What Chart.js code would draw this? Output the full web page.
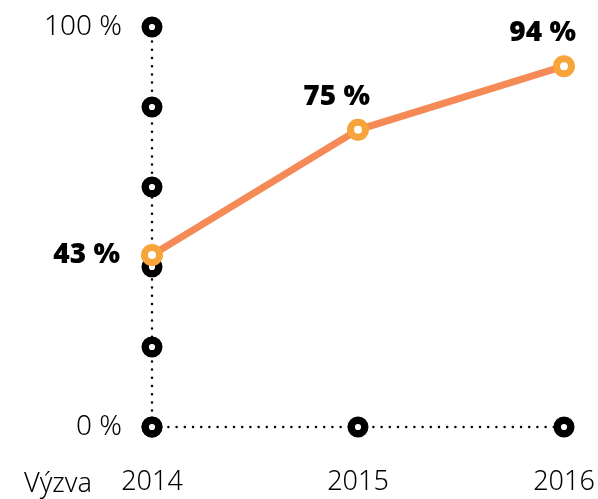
<!DOCTYPE html>
<html>
<head>
<meta charset="utf-8">
<script src="https://cdn.jsdelivr.net/npm/chart.js@4"></script>
<style>
  html, body { margin: 0; padding: 0; background: #fff; }
  #wrap { width: 598px; height: 499px; }
</style>
</head>
<body>
<div id="wrap"><canvas id="chart"></canvas></div>
<script>
// data
const years = ['2014', '2015', '2016'];
const shares = [43, 74.3, 90.2];
const shareLabels = ['43 %', '75 %', '94 %'];
const yTicks = [0, 20, 40, 60, 80, 100];
const axisName = 'Výzva';

const textFont = '"Noto Sans", sans-serif';

// black rings on the axes
const yAxisRings = yTicks.map(v => ({ x: years[0], y: v }));
const xAxisRings = years.map(y => ({ x: y, y: 0 }));

const ringStyle = {
    showLine: true,
    borderColor: '#000',
    borderWidth: 2.5,
    borderDash: [0, 8.2],
    borderCapStyle: 'round',
    pointRadius: 6.8,
    pointBorderWidth: 7.4,
    pointBorderColor: '#000',
    pointBackgroundColor: '#fff',
    pointHoverRadius: 6.8,
    clip: false,
    order: 2
};

const labelPlugin = {
    id: 'shareLabels',
    afterDatasetsDraw(chart) {
        const ctx = chart.ctx;
        const meta = chart.getDatasetMeta(0);
        ctx.save();
        ctx.fillStyle = '#000';
        ctx.font = '900 28px ' + textFont;
        ctx.textAlign = 'right';
        ctx.textBaseline = 'middle';
        meta.data.forEach((pt, i) => {
            if (i === 0) {
                ctx.fillText(shareLabels[i], pt.x - 32, pt.y);
            } else {
                ctx.fillText(shareLabels[i], pt.x + 12, pt.y - 33);
            }
        });
        // axis name left of the year labels
        ctx.fillStyle = '#000';
        ctx.font = '300 27px ' + textFont;
        ctx.fillText(axisName, 92, 484);
        ctx.restore();
    }
};

new Chart(document.getElementById('chart'), {
    type: 'line',
    data: {
        labels: years,
        datasets: [
            {
                data: shares,
                borderColor: '#f58a56',
                borderWidth: 7,
                pointRadius: 7.5,
                pointHoverRadius: 7.5,
                pointBorderWidth: 7,
                pointBorderColor: '#f7a43b',
                pointBackgroundColor: '#fff',
                tension: 0,
                clip: false,
                order: 0
            },
            Object.assign({ data: yAxisRings }, ringStyle),
            Object.assign({ data: xAxisRings }, ringStyle)
        ]
    },
    options: {
        responsive: true,
        maintainAspectRatio: false,
        animation: false,
        layout: { autoPadding: false, padding: { top: 27, right: 34, left: 0, bottom: 0 } },
        plugins: { legend: { display: false }, tooltip: { enabled: false } },
        scales: {
            x: {
                offset: false,
                grid: { display: false, drawTicks: false },
                border: { display: false },
                ticks: {
                    color: '#000',
                    font: { family: textFont, size: 27, weight: 300 },
                    padding: 39,
                    maxRotation: 0
                },
                afterFit(scale) {
                    scale.height = 72;
                    scale.paddingLeft = 0;
                    scale.paddingRight = 0;
                }
            },
            y: {
                min: 0,
                max: 100,
                grid: { display: false, drawTicks: false },
                border: { display: false },
                ticks: {
                    stepSize: 20,
                    color: '#000',
                    font: { family: textFont, size: 28, weight: 300 },
                    padding: 30,
                    callback: v => (v === 0 || v === 100) ? v + ' %' : ''
                },
                afterFit(scale) {
                    scale.width = 152;
                    scale.paddingTop = 0;
                    scale.paddingBottom = 0;
                }
            }
        }
    },
    plugins: [labelPlugin]
});
</script>
</body>
</html>
